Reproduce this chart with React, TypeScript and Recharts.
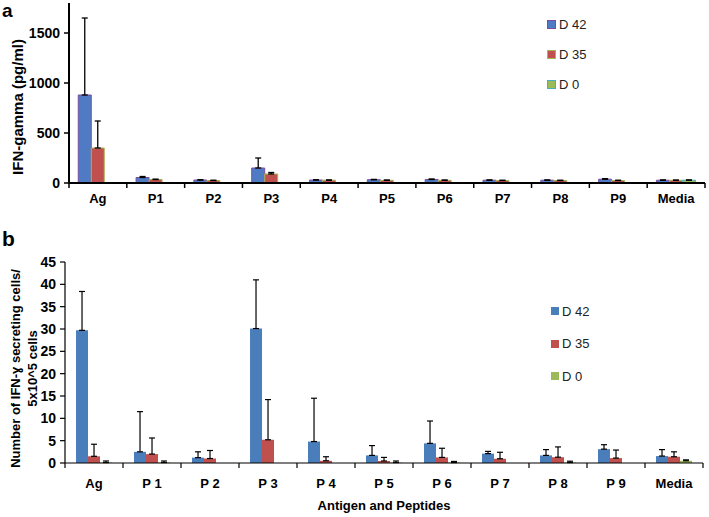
import React from 'react';
import { BarChart, Bar, XAxis, YAxis, ErrorBar } from 'recharts';

// ---------- Panel a: IFN-gamma (pg/ml) ----------
const categoriesA = ['Ag', 'P1', 'P2', 'P3', 'P4', 'P5', 'P6', 'P7', 'P8', 'P9', 'Media'];
const d42A = [880, 55, 30, 150, 30, 33, 35, 28, 28, 38, 28];
const d42ErrA = [770, 10, 2, 100, 2, 3, 5, 2, 2, 5, 2];
const d35A = [350, 35, 25, 90, 28, 27, 27, 25, 25, 25, 27];
const d35ErrA = [270, 3, 2, 15, 2, 2, 2, 2, 2, 2, 2];
const d0A = [0, 0, 0, 0, 0, 0, 0, 0, 0, 0, 28];
const d0ErrA = [0, 0, 0, 0, 0, 0, 0, 0, 0, 0, 2];
const ticksA = [0, 500, 1000, 1500];

// ---------- Panel b: number of IFN-γ secreting cells ----------
const categoriesB = ['Ag', 'P 1', 'P 2', 'P 3', 'P 4', 'P 5', 'P 6', 'P 7', 'P 8', 'P 9', 'Media'];
const d42B = [29.7, 2.5, 1.2, 30.1, 4.8, 1.7, 4.4, 2.1, 1.7, 3.1, 1.55];
const d42ErrB = [8.7, 9.0, 1.3, 10.9, 9.7, 2.2, 5.0, 0.5, 1.3, 1.0, 1.45];
const d35B = [1.5, 2.0, 1.0, 5.2, 0.5, 0.45, 1.25, 0.95, 1.3, 1.1, 1.4];
const d35ErrB = [2.7, 3.6, 1.8, 9.0, 0.9, 0.8, 2.05, 1.45, 2.3, 1.8, 1.1];
const d0B = [0.1, 0.1, 0, 0, 0, 0.1, 0.1, 0, 0.1, 0, 0.5];
const d0ErrB = [0.35, 0.35, 0, 0, 0, 0.35, 0.25, 0, 0.3, 0, 0.2];
const ticksB = [0, 5, 10, 15, 20, 25, 30, 35, 40, 45];

const seriesNames = ['D 42', 'D 35', 'D 0'];

const FONT = '"Liberation Sans", Arial, Helvetica, sans-serif';

const tableA = categoriesA.map((c, i) => ({
  name: c,
  d42: d42A[i],
  d42Err: [0, d42ErrA[i]],
  d35: d35A[i],
  d35Err: [0, d35ErrA[i]],
  d0: d0A[i],
  d0Err: [0, d0ErrA[i]],
}));

const tableB = categoriesB.map((c, i) => ({
  name: c,
  d42: d42B[i],
  d42Err: [0, d42ErrB[i]],
  d35: d35B[i],
  d35Err: [0, d35ErrB[i]],
  d0: d0B[i],
  d0Err: [0, d0ErrB[i]],
}));

const stylesA = [
  { fill: '#4F7BC4', stroke: '#7A4FA0' },
  { fill: '#C0504D', stroke: '#A8B45A' },
  { fill: '#9BBB59', stroke: '#4BACC6' },
];
const stylesB = [
  { fill: '#4A7EBB', stroke: 'none' },
  { fill: '#C0504D', stroke: 'none' },
  { fill: '#9BBB59', stroke: 'none' },
];

function makeXTick(count: number, plotWidth: number, labelOffset: number, fontSize: number, sw: number) {
  const band = plotWidth / count;
  return (props: any) => {
    const { x, y, payload } = props;
    const i = payload.index;
    return (
      <g>
        <line x1={x - band / 2} x2={x - band / 2} y1={y} y2={y + 5} stroke="#000" strokeWidth={sw} />
        {i === count - 1 && (
          <line x1={x + band / 2} x2={x + band / 2} y1={y} y2={y + 5} stroke="#000" strokeWidth={sw} />
        )}
        <text
          x={x}
          y={y + labelOffset}
          textAnchor="middle"
          fontSize={fontSize}
          fontWeight="bold"
          fontFamily={FONT}
          fill="#000"
        >
          {payload.value}
        </text>
      </g>
    );
  };
}

function LegendBox(props: { styles: { fill: string; stroke: string }[]; gap: number; sw: number; left: number; top: number }) {
  const { styles, gap, sw, left, top } = props;
  return (
    <div style={{ position: 'absolute', left, top, fontFamily: FONT, fontSize: 13, color: '#222' }}>
      {seriesNames.map((n, i) => (
        <div key={n} style={{ display: 'flex', alignItems: 'center', height: gap }}>
          <span
            style={{
              display: 'inline-block',
              width: sw,
              height: sw,
              background: styles[i].fill,
              border: styles[i].stroke === 'none' ? 'none' : `1px solid ${styles[i].stroke}`,
              boxSizing: 'border-box',
              marginRight: 3,
            }}
          />
          <span>{n}</span>
        </div>
      ))}
    </div>
  );
}

const YLabelA = (props: any) => {
  const vb = props.viewBox;
  const cx = 17;
  const cy = vb.y + vb.height / 2 + 14;
  return (
    <text
      x={cx}
      y={cy}
      transform={`rotate(-90 ${cx} ${cy})`}
      textAnchor="middle"
      dominantBaseline="central"
      fontSize={15}
      fontWeight="bold"
      fontFamily={FONT}
      fill="#000"
    >
      IFN-gamma (pg/ml)
    </text>
  );
};

const YLabelB = (props: any) => {
  const vb = props.viewBox;
  const cy = vb.y + vb.height / 2 + 6;
  const x1 = 15;
  const x2 = 32;
  return (
    <g>
      <text
        x={x1}
        y={cy}
        transform={`rotate(-90 ${x1} ${cy})`}
        textAnchor="middle"
        dominantBaseline="central"
        fontSize={13}
        fontWeight="bold"
        fontFamily={FONT}
        fill="#000"
      >
        Number of IFN-ɣ secreting cells/
      </text>
      <text
        x={x2}
        y={cy}
        transform={`rotate(-90 ${x2} ${cy})`}
        textAnchor="middle"
        dominantBaseline="central"
        fontSize={13}
        fontWeight="bold"
        fontFamily={FONT}
        fill="#000"
      >
        5x10^5 cells
      </text>
    </g>
  );
};

export default function App() {
  const keys = ['d42', 'd35', 'd0'];
  return (
    <div style={{ position: 'absolute', left: 0, top: 0, width: 709, height: 517, background: '#fff', fontFamily: FONT }}>
      <div style={{ position: 'absolute', left: 0, top: 0 }}>
        <BarChart
          width={709}
          height={215}
          data={tableA}
          margin={{ top: 3, right: 4, left: 0, bottom: 0 }}
          barCategoryGap="16%"
          barGap={0}
        >
          <XAxis
            dataKey="name"
            height={32}
            axisLine={{ stroke: '#000', strokeWidth: 2 }}
            tickLine={false}
            tickSize={0}
            tickMargin={0}
            interval={0}
            tick={makeXTick(11, 636, 20, 13, 1.5)}
          />
          <YAxis
            width={69}
            domain={[0, 1800]}
            ticks={ticksA}
            interval={0}
            axisLine={{ stroke: '#000', strokeWidth: 2 }}
            tickLine={{ stroke: '#000', strokeWidth: 1.5 }}
            tickSize={5}
            tickMargin={4}
            tick={{ fill: '#000', fontSize: 14, fontWeight: 'bold', fontFamily: FONT }}
            label={<YLabelA />}
          />
          {keys.map((k, i) => (
            <Bar
              key={k}
              dataKey={k}
              name={seriesNames[i]}
              fill={stylesA[i].fill}
              stroke={stylesA[i].stroke}
              strokeWidth={1}
              isAnimationActive={false}
            >
              <ErrorBar dataKey={`${k}Err`} width={3} stroke="#000" strokeWidth={1.3} direction="y" />
            </Bar>
          ))}
        </BarChart>
      </div>

      <div style={{ position: 'absolute', left: 0, top: 255 }}>
        <BarChart
          width={709}
          height={242}
          data={tableB}
          margin={{ top: 7, right: 6, left: 0, bottom: 0 }}
          barCategoryGap="19%"
          barGap={0}
        >
          <XAxis
            dataKey="name"
            height={34}
            axisLine={{ stroke: '#000', strokeWidth: 1.2 }}
            tickLine={false}
            tickSize={0}
            tickMargin={0}
            interval={0}
            tick={makeXTick(11, 638, 25, 13, 1.2)}
          />
          <YAxis
            width={65}
            domain={[0, 45]}
            ticks={ticksB}
            interval={0}
            axisLine={{ stroke: '#000', strokeWidth: 1.2 }}
            tickLine={{ stroke: '#000', strokeWidth: 1.2 }}
            tickSize={5}
            tickMargin={4}
            tick={{ fill: '#000', fontSize: 14, fontWeight: 'bold', fontFamily: FONT }}
            label={<YLabelB />}
          />
          {keys.map((k, i) => (
            <Bar
              key={k}
              dataKey={k}
              name={seriesNames[i]}
              fill={stylesB[i].fill}
              isAnimationActive={false}
            >
              <ErrorBar dataKey={`${k}Err`} width={3} stroke="#000" strokeWidth={1.2} direction="y" />
            </Bar>
          ))}
        </BarChart>
      </div>

      <LegendBox styles={stylesA} gap={30} sw={9} left={547} top={9} />
      <LegendBox styles={stylesB} gap={32.5} sw={8} left={551} top={295} />

      <div style={{ position: 'absolute', left: 2, top: 1, fontSize: 19, lineHeight: '19px', fontWeight: 'bold' }}>a</div>
      <div style={{ position: 'absolute', left: 2, top: 228, fontSize: 21, lineHeight: '21px', fontWeight: 'bold' }}>b</div>

      <div
        style={{
          position: 'absolute',
          left: 65,
          width: 638,
          top: 498,
          textAlign: 'center',
          fontSize: 13,
          fontWeight: 'bold',
        }}
      >
        Antigen and Peptides
      </div>
    </div>
  );
}
